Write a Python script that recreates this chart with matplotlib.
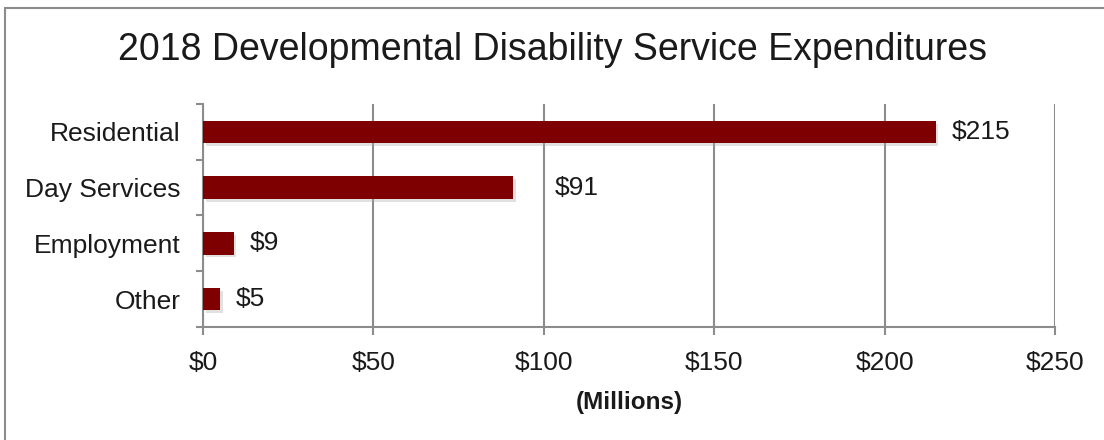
import matplotlib.pyplot as plt
import matplotlib.patheffects as pe
from matplotlib.patches import Rectangle

categories = ['Residential', 'Day Services', 'Employment', 'Other']
values = [215, 91, 9, 5]
value_labels = ['$215', '$91', '$9', '$5']
x_ticks = [0, 50, 100, 150, 200, 250]
x_tick_labels = ['$0', '$50', '$100', '$150', '$200', '$250']

plt.rcParams['font.family'] = ['Liberation Sans', 'DejaVu Sans']

fig = plt.figure(figsize=(11.04, 4.4), dpi=100)
ax = fig.add_axes([203 / 1104, 1 - 327 / 440, 852 / 1104, 223 / 440])

# outer chart border (only left/top visible in the crop)
fig.patches.append(Rectangle((5 / 1104, -0.1), 1.2, 1 - 8 / 440 + 0.1,
                             transform=fig.transFigure, fill=False,
                             edgecolor='#8c8c8c', linewidth=1.5))

ypos = list(range(len(categories)))
bars = ax.barh(ypos, values, height=0.4, color='#7f0000', zorder=3)
for b in bars:
    b.set_path_effects([pe.SimplePatchShadow(offset=(2, -2), shadow_rgbFace='#aaaaaa', alpha=0.35),
                        pe.Normal()])

# data labels (Day Services label was nudged further out in the original)
offsets = [16, 42, 16, 16]
for y, v, lab, off in zip(ypos, values, value_labels, offsets):
    ax.annotate(lab, (v, y), xytext=(off, 0), textcoords='offset pixels',
                va='center', ha='left', fontsize=19, color='#1a1a1a')

ax.set_xlim(0, 250)
ax.set_ylim(3.5, -0.5)
ax.set_xticks(x_ticks)
ax.set_xticklabels(x_tick_labels, fontsize=19, color='#1a1a1a')
ax.set_yticks(ypos)
ax.set_yticklabels(categories, fontsize=19, color='#1a1a1a')
ax.set_yticks([-0.5, 0.5, 1.5, 2.5, 3.5], minor=True)
ax.tick_params(axis='y', which='major', length=0, pad=16)
ax.tick_params(axis='y', which='minor', length=5, width=1.5, color='#8c8c8c')
ax.tick_params(axis='x', which='major', length=6, width=1.5, color='#8c8c8c', pad=11)

ax.grid(axis='x', color='#8c8c8c', linewidth=1.5, zorder=0)
for s in ['top', 'right']:
    ax.spines[s].set_visible(False)
for s in ['left', 'bottom']:
    ax.spines[s].set_color('#8c8c8c')
    ax.spines[s].set_linewidth(1.5)

ax.set_xlabel('(Millions)', fontsize=17.5, fontweight='bold', color='#1a1a1a', labelpad=12)
fig.text(0.5, 1 - 50 / 440, '2018 Developmental Disability Service Expenditures',
         ha='center', va='center', fontsize=27, color='#1a1a1a')

fig.savefig('out.png', dpi=100, facecolor='white')
